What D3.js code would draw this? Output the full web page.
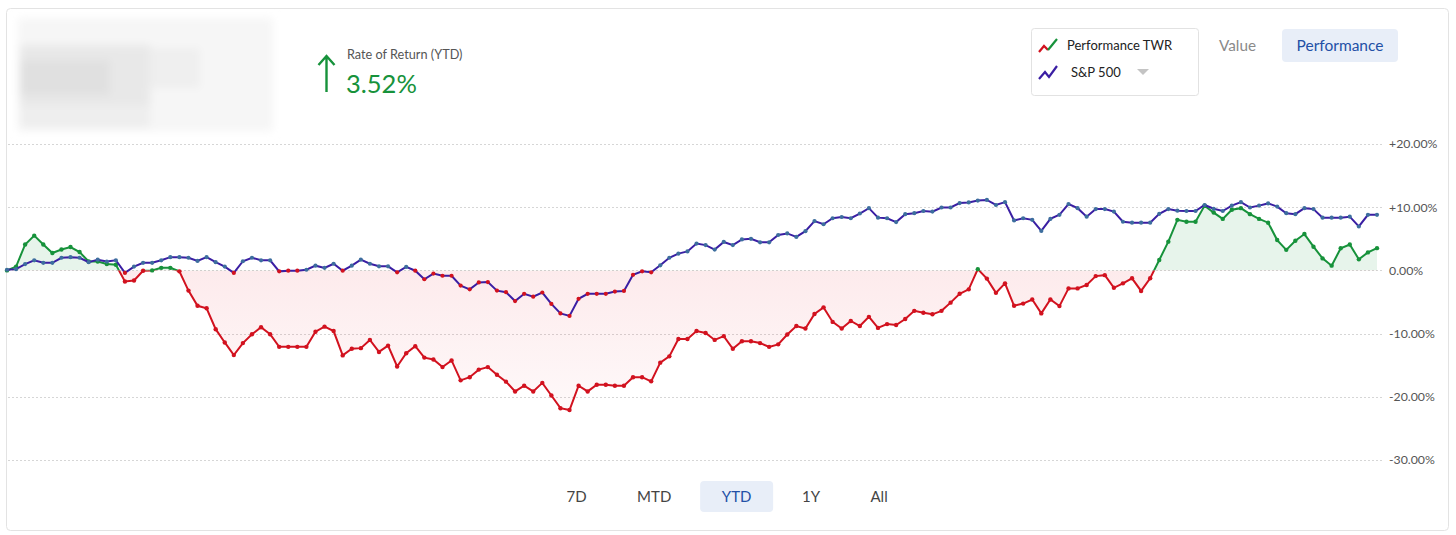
<!DOCTYPE html>
<html>
<head>
<meta charset="utf-8">
<script src="https://cdn.jsdelivr.net/npm/d3@7"></script>
<style>
  body { margin: 0; background: #fff; font-family: Lato, "Open Sans", sans-serif; }
  svg { display: block; }
</style>
</head>
<body>
<svg id="drawing_region"></svg>
<script>
// YTD daily values, % return
const performance = [
  0, 0.6, 4.1, 5.5, 4.1, 2.75, 3.3, 3.7, 2.9, 1.4, 1.4, 1.0, 0.9, -1.75, -1.6, -0.05, 0, 0.4, 0.4, -0.15,
  -3.2, -5.6, -6.0, -9.3, -11.4, -13.4, -11.5, -10.1, -9.0, -10.1, -12.1, -12.1, -12.1, -12.1, -9.7, -8.9, -9.6, -13.45, -12.4, -12.3,
  -11.0, -12.9, -11.9, -15.2, -13.1, -12.0, -13.8, -14.1, -15.3, -14.25, -17.4, -16.9, -15.7, -15.3, -16.5, -17.6, -19.15, -18.25, -19.15, -17.8,
  -19.8, -21.8, -22.1, -18.25, -19.15, -18.1, -18.1, -18.25, -18.25, -16.9, -16.9, -17.55, -14.6, -13.6, -10.85, -10.85, -9.6, -9.9, -11.0, -10.4,
  -12.4, -11.2, -11.2, -11.5, -12.1, -11.7, -10.15, -8.8, -9.2, -6.9, -5.85, -8.15, -9.2, -8.0, -8.8, -7.35, -9.1, -8.5, -8.65, -7.7,
  -6.4, -6.7, -6.95, -6.4, -5.1, -3.7, -3.0, 0.2, -1.3, -3.55, -2.05, -5.6, -5.25, -4.6, -6.8, -4.6, -5.65, -2.85, -2.85, -2.3,
  -0.9, -0.75, -2.75, -2.05, -1.25, -3.25, -1.25, 1.65, 4.55, 8.0, 7.7, 7.7, 10.25, 9.15, 8.15, 9.6, 9.85, 8.9, 8.15, 7.55,
  4.8, 3.25, 4.7, 5.75, 3.75, 1.9, 0.75, 3.5, 4.1, 1.75, 2.85, 3.52
];

const sp500 = [
  0.1, 0.2, 1.0, 1.6, 1.2, 1.2, 2.0, 2.1, 2.0, 1.3, 1.7, 1.4, 1.6, -0.4, 0.6, 1.2, 1.2, 1.6, 2.1, 2.1,
  2.0, 1.5, 2.1, 1.3, 0.6, -0.4, 1.45, 2.0, 1.6, 1.6, -0.15, -0.05, -0.05, 0.1, 0.75, 0.4, 1.05, -0.05, 0.75, 1.7,
  1.05, 0.65, 0.65, -0.3, 0.55, -0.05, -1.4, -0.5, -0.85, -0.85, -2.4, -3.0, -1.9, -1.85, -3.2, -3.45, -4.85, -3.7, -4.15, -3.5,
  -5.3, -6.8, -7.2, -4.5, -3.7, -3.7, -3.7, -3.35, -3.25, -0.7, -0.15, -0.3, 0.8, 2.0, 2.65, 3.0, 4.25, 4.0, 3.3, 4.5,
  4.0, 4.9, 5.0, 4.45, 4.45, 5.6, 5.85, 5.3, 6.2, 7.8, 7.3, 8.25, 8.45, 8.25, 9.0, 9.85, 8.35, 8.25, 7.65, 8.9,
  9.05, 9.4, 9.3, 9.95, 9.95, 10.65, 10.75, 11.05, 11.15, 10.35, 10.8, 7.9, 8.25, 8.0, 6.25, 8.15, 8.8, 10.5, 9.85, 8.5,
  9.7, 9.7, 9.3, 7.7, 7.55, 7.55, 7.55, 8.95, 9.7, 9.45, 9.4, 9.4, 10.35, 9.75, 9.4, 10.25, 10.8, 9.95, 10.25, 10.6,
  10.1, 9.05, 8.9, 9.85, 9.7, 8.35, 8.35, 8.35, 8.5, 6.95, 8.8, 8.8
];

const yTicks = [20, 10, 0, -10, -20, -30];
const periods = ['7D', 'MTD', 'YTD', '1Y', 'All'];
const selectedPeriod = 'YTD';
const rateOfReturn = '3.52%';

const width = 1456, height = 535;
const RED = '#d2121f', GREEN = '#17923b', BLUE = '#3a1ea3', DOT_BLUE = '#3d6e9e';

const svg = d3.select('#drawing_region')
  .attr('width', width)
  .attr('height', height);

const defs = svg.append('defs');

// card
svg.append('rect')
  .attr('x', 6.5).attr('y', 8.5)
  .attr('width', 1442).attr('height', 522)
  .attr('rx', 4)
  .attr('fill', '#fff')
  .attr('stroke', '#e3e3e3');

// blurred account block
defs.append('filter').attr('id', 'blur')
  .attr('x', '-20%').attr('y', '-20%').attr('width', '140%').attr('height', '140%')
  .append('feGaussianBlur').attr('stdDeviation', 4);
const blk = svg.append('g').attr('filter', 'url(#blur)');
blk.append('rect').attr('x', 18).attr('y', 18).attr('width', 255).attr('height', 113).attr('fill', '#f6f6f6');
blk.append('rect').attr('x', 20).attr('y', 45).attr('width', 130).attr('height', 62).attr('fill', '#e8e8e8');
blk.append('rect').attr('x', 20).attr('y', 60).attr('width', 90).attr('height', 35).attr('fill', '#e0e0e0');
blk.append('rect').attr('x', 150).attr('y', 48).attr('width', 50).attr('height', 40).attr('fill', '#efefef');
blk.append('rect').attr('x', 20).attr('y', 108).attr('width', 130).attr('height', 20).attr('fill', '#eeeeee');

// rate of return header
svg.append('path')
  .attr('d', 'M326.5,92 L326.5,56 M318.5,65 L326.5,56 L334.5,65')
  .attr('fill', 'none').attr('stroke', GREEN).attr('stroke-width', 2.4);
svg.append('text')
  .attr('x', 347).attr('y', 59)
  .attr('font-size', 12.7).attr('fill', '#555')
  .text('Rate of Return (YTD)');
svg.append('text')
  .attr('x', 346).attr('y', 93)
  .attr('font-size', 25.5).attr('fill', GREEN)
  .text(rateOfReturn);

// legend box
const legend = svg.append('g');
legend.append('rect')
  .attr('x', 1031.5).attr('y', 28.5).attr('width', 167).attr('height', 67)
  .attr('rx', 3).attr('fill', '#fff').attr('stroke', '#e2e2e2');
legend.append('path').attr('d', 'M1039,52 L1044,46 L1048,50')
  .attr('fill', 'none').attr('stroke', RED).attr('stroke-width', 2.2);
legend.append('path').attr('d', 'M1048,50 L1057,39')
  .attr('fill', 'none').attr('stroke', GREEN).attr('stroke-width', 2.2);
legend.append('path').attr('d', 'M1039,79 L1045,72 L1049,77 L1057,66')
  .attr('fill', 'none').attr('stroke', BLUE).attr('stroke-width', 2.2);
legend.append('text').attr('x', 1067).attr('y', 50)
  .attr('font-size', 13).attr('fill', '#222').text('Performance TWR');
legend.append('text').attr('x', 1071).attr('y', 77)
  .attr('font-size', 13).attr('fill', '#222').text('S&P 500');
legend.append('path').attr('d', 'M1137,69 L1149,69 L1143,75 Z').attr('fill', '#c4c4c4');

// value / performance toggle
svg.append('text').attr('x', 1219).attr('y', 51)
  .attr('font-size', 15.3).attr('fill', '#8a8a8a').text('Value');
svg.append('rect').attr('x', 1282).attr('y', 29).attr('width', 116).attr('height', 33)
  .attr('rx', 4).attr('fill', '#e8eef8');
svg.append('text').attr('x', 1340).attr('y', 51).attr('text-anchor', 'middle')
  .attr('font-size', 15.5).attr('fill', '#2350a6').text('Performance');

// scales
const x = d3.scaleLinear().domain([0, performance.length - 1]).range([7, 1377]);
const y = d3.scaleLinear().domain([-30, 20]).range([460, 144]);

// grid
svg.append('g')
  .selectAll('line')
  .data(yTicks)
  .join('line')
  .attr('x1', 8).attr('x2', 1382)
  .attr('y1', d => Math.round(y(d)) + 0.5).attr('y2', d => Math.round(y(d)) + 0.5)
  .attr('stroke', '#d6d6d6')
  .attr('stroke-dasharray', '2,2');

// y labels
const yAxis = d3.axisRight(y)
  .tickValues(yTicks)
  .tickSize(0)
  .tickPadding(0)
  .tickFormat(d => (d > 0 ? '+' : '') + d.toFixed(2) + '%');
const yg = svg.append('g').attr('transform', 'translate(1389,0)').call(yAxis);
yg.select('.domain').remove();
yg.selectAll('text').attr('font-size', 12.3).attr('fill', '#555').attr('font-family', 'Lato, sans-serif');

// clip regions above / below zero
defs.append('clipPath').attr('id', 'above')
  .append('rect').attr('x', 0).attr('y', 0).attr('width', width).attr('height', y(0));
defs.append('clipPath').attr('id', 'below')
  .append('rect').attr('x', 0).attr('y', y(0)).attr('width', width).attr('height', height - y(0));

const grad = defs.append('linearGradient').attr('id', 'redfill')
  .attr('x1', 0).attr('x2', 0).attr('y1', 0).attr('y2', 1);
grad.append('stop').attr('offset', '0%').attr('stop-color', '#e8303f').attr('stop-opacity', 0.13);
grad.append('stop').attr('offset', '100%').attr('stop-color', '#e8303f').attr('stop-opacity', 0.03);

const area = d3.area()
  .x((d, i) => x(i))
  .y0(y(0))
  .y1(d => y(d));
const line = d3.line()
  .x((d, i) => x(i))
  .y(d => y(d));

svg.append('path').attr('d', area(performance))
  .attr('clip-path', 'url(#above)').attr('fill', GREEN).attr('fill-opacity', 0.1);
svg.append('path').attr('d', area(performance))
  .attr('clip-path', 'url(#below)').attr('fill', 'url(#redfill)');

// performance line split by sign
svg.append('path').attr('d', line(performance))
  .attr('clip-path', 'url(#above)')
  .attr('fill', 'none').attr('stroke', GREEN).attr('stroke-width', 2);
svg.append('path').attr('d', line(performance))
  .attr('clip-path', 'url(#below)')
  .attr('fill', 'none').attr('stroke', RED).attr('stroke-width', 2);
svg.append('g').selectAll('circle')
  .data(performance)
  .join('circle')
  .attr('cx', (d, i) => x(i))
  .attr('cy', d => y(d))
  .attr('r', 2.2)
  .attr('fill', d => d >= 0 ? GREEN : RED);

// S&P 500
svg.append('path').attr('d', line(sp500))
  .attr('fill', 'none').attr('stroke', BLUE).attr('stroke-width', 2);
svg.append('g').selectAll('circle')
  .data(sp500)
  .join('circle')
  .attr('cx', (d, i) => x(i))
  .attr('cy', d => y(d))
  .attr('r', 2.1)
  .attr('fill', d => d >= 0 ? DOT_BLUE : RED);

// period buttons, laid out by text width
const btnGap = 50.5, btnLeft = 566.5;
const btnG = svg.append('g');
const btnText = btnG.selectAll('text')
  .data(periods)
  .join('text')
  .attr('y', 502)
  .attr('text-anchor', 'middle')
  .attr('font-size', 15)
  .attr('fill', d => d === selectedPeriod ? '#2350a6' : '#444')
  .text(d => d);
let cursor = btnLeft;
btnText.each(function (d) {
  const w = this.getComputedTextLength();
  const cx = cursor + w / 2;
  d3.select(this).attr('x', cx);
  if (d === selectedPeriod) {
    btnG.insert('rect', 'text')
      .attr('x', cx - 36.5).attr('y', 481)
      .attr('width', 73).attr('height', 31).attr('rx', 4)
      .attr('fill', '#e8eef8');
  }
  cursor += w + btnGap;
});
</script>
</body>
</html>
